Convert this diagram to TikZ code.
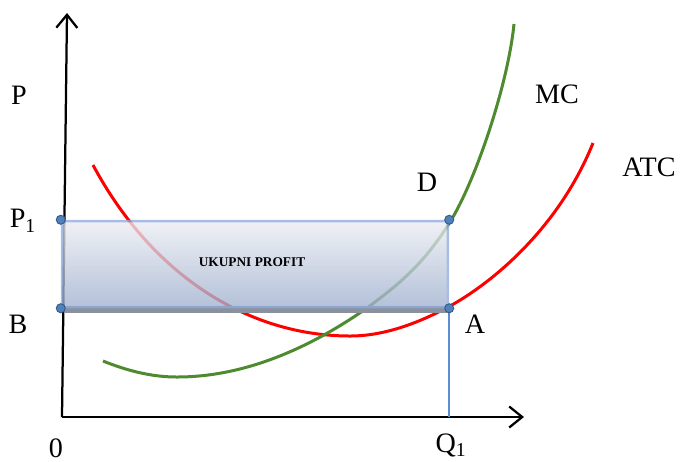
\documentclass[tikz,border=0pt]{standalone}
\usepackage{fontspec}
\setmainfont{Liberation Serif}
\usetikzlibrary{arrows.meta,positioning,calc}
\definecolor{atcline}{HTML}{FF0000}
\definecolor{mcline}{HTML}{4E8A2E}
\definecolor{boxline}{HTML}{8EAADB}
\definecolor{boxtop}{HTML}{EBEDF2}
\definecolor{boxbottom}{HTML}{9FB0CE}
\definecolor{boxshadow}{HTML}{8A909C}
\definecolor{qline}{HTML}{5B8FD0}
\definecolor{dotfill}{HTML}{4F81BD}
\definecolor{dotline}{HTML}{385D8A}

\begin{document}
\begin{tikzpicture}[x=0.02cm, y=-0.02cm,
  every node/.style={font=\fontsize{16}{18}\selectfont},
  os/.style={-{Straight Barb[length=2.6mm, width=4.2mm]}, line width=0.45mm, black},
  krivulja/.style={line width=0.6mm},
  profitbox/.style={draw=boxline, line width=0.5mm, top color=boxtop, bottom color=boxbottom,
    minimum width=7.72cm, minimum height=1.72cm, inner sep=0pt},
  profittekst/.style={font=\fontsize{7.6}{9}\selectfont\bfseries, inner sep=0pt},
  tocka/.style={circle, fill=dotfill, draw=dotline, line width=0.2mm, inner sep=0pt, minimum size=1.8mm},
  oznaka/.style={inner sep=0pt}
]
\useasboundingbox (0,0) rectangle (685,461);
% osi
\coordinate (O) at (62,417);
\coordinate (Yvrh) at (67,13);
\coordinate (Xkraj) at (524,417);
\draw[os] (O) -- (Yvrh);
\draw[os] (O) -- (Xkraj);
% ATC
\draw[krivulja, atcline] (93,165) .. controls (153,277) and (250,336) .. (350,336)
  .. controls (383,336) and (417,324) .. (450,306)
  .. controls (490,284) and (558,230) .. (593,143);
% MC
\draw[krivulja, mcline] (103,361) .. controls (128,371) and (152,377) .. (177,377)
  .. controls (240,377) and (304,352) .. (367,308)
  .. controls (395,287) and (422,267) .. (450,222)
  .. controls (476,180) and (508,84) .. (514,24);
% ukupni profit
\fill[boxshadow] (64,306) rectangle (448,313);
\begin{scope}[transparency group, opacity=0.78]
\node[profitbox] (profit) at (255,264) {};
\end{scope}
\node[profittekst] (tekst) at ($(profit.center)+(-3,-2)$) {UKUPNI PROFIT};
\coordinate (Qdno) at (profit.south east |- O);
\draw[qline, line width=0.3mm] (profit.south east) -- (Qdno);
\node[tocka] (tP) at (profit.north west) {};
\node[tocka] (tD) at (profit.north east) {};
\node[tocka] (tB) at (profit.south west) {};
\node[tocka] (tA) at (profit.south east) {};
% oznake
\node[oznaka] (lP) at (19,95) {P};
\node[oznaka] (lP1) at (23,221) {P\textsubscript{1}};
\node[oznaka] (lB) at (18,324) {B};
\node[oznaka] (lO) at (56,448) {0};
\node[oznaka] (lQ1) at (451,445) {Q\textsubscript{1}};
\node[oznaka] (lA) at (475,324) {A};
\node[oznaka] (lD) at (427,182) {D};
\node[oznaka] (lMC) at (557,94) {MC};
\node[oznaka] (lATC) at (649,167) {ATC};
\end{tikzpicture}
\end{document}
